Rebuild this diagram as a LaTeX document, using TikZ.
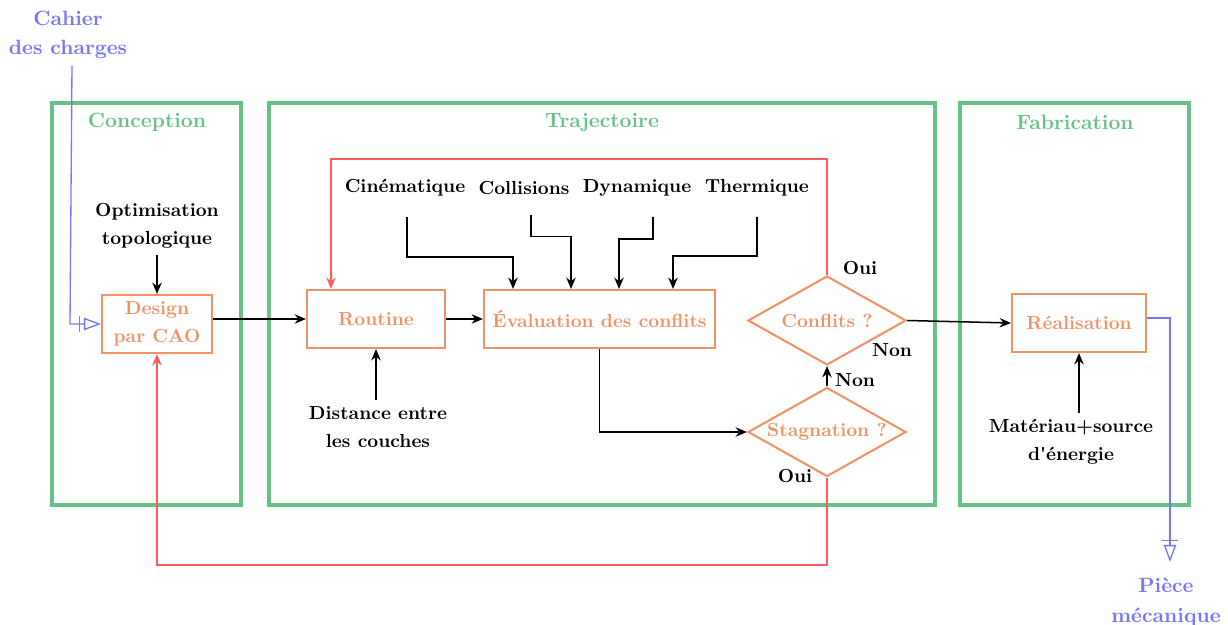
\documentclass[tikz,border=0pt]{standalone}
\usepackage{fontspec}
\setmainfont{Latin Modern Roman}[Ligatures=TeXOff]
\usepackage{xcolor}
\usepackage{tikz}
\usetikzlibrary{positioning,calc,shapes.geometric,arrows.meta}
\definecolor{stagegreen}{RGB}{104,194,136}
\definecolor{procorange}{RGB}{240,146,102}
\definecolor{loopred}{RGB}{250,92,92}
\definecolor{ioblue}{RGB}{118,118,250}
\tikzset{
  stage/.style    = {draw=stagegreen, line width=1.7pt},
  stagehdr/.style = {font=\fontsize{10.95}{13.6}\selectfont\bfseries, text=stagegreen},
  proc/.style     = {draw=procorange, line width=1.1pt, text=procorange, font=\bfseries, align=center, minimum height=30.7pt, inner sep=2pt},
  test/.style     = {diamond, draw=procorange, line width=1.1pt, text=procorange, font=\bfseries, aspect=1.8, inner sep=0pt, minimum width=83.6pt, minimum height=47.1pt},
  lbl/.style      = {font=\bfseries, align=center},
  iolbl/.style    = {font=\fontsize{10.95}{13.6}\selectfont\bfseries, text=ioblue, align=center},
  flow/.style     = {-{Stealth[length=6pt,width=5pt]}, line width=0.8pt},
  loop/.style     = {-{Stealth[length=6pt,width=5pt]}, draw=loopred, line width=1.1pt},
  io/.style       = {-{Bar[width=8pt,sep=2pt]Triangle[open,length=9pt,width=6.5pt]}, draw=ioblue, line width=0.7pt},
}

\begin{document}
\begin{tikzpicture}[x=0.529pt,y=-0.529pt]
  \useasboundingbox (0,0) rectangle (1228,625);

  % ----- stages -----
  \draw[stage] (52,103) rectangle (241,505);
  \draw[stage] (269,103) rectangle (935,505);
  \draw[stage] (960,103) rectangle (1189,505);
  \node[stagehdr] (hconc) at (147,122) {Conception};
  \node[stagehdr] (htraj) at (602,122) {Trajectoire};
  \node[stagehdr] (hfab) at (1075,122) {Fabrication};

  % ----- conception -----
  \node[iolbl] (cahier) at (68,35) {Cahier\\[2pt]des charges};
  \node[lbl] (opti) at (157,226) {Optimisation\\[3pt]topologique};
  \node[proc, minimum width=58.2pt] (cao) at (157,324) {Design\\[3pt]par CAO};

  % ----- trajectoire -----
  \node[proc, minimum width=73pt] (routine) at (376,319) {Routine};
  \node[proc, minimum width=122.2pt] (eval) at (599.5,319) {Évaluation des conflits};
  \node[lbl] (dist) at (378,427) {Distance entre\\[3pt]les couches};
  \node[lbl] (cine) at (405,188) {Cinématique};
  \node[lbl] (coll) at (524,188) {Collisions};
  \node[lbl] (dyn) at (637,188) {Dynamique};
  \node[lbl] (therm) at (757,188) {Thermique};
  \node[test] (conf) at (827,320.5) {Conflits ?};
  \node[test] (stag) at (827,432) {Stagnation ?};
  \node[lbl] (ouiconf) at (860,268) {Oui};
  \node[lbl] (nonconf) at (892,350) {Non};
  \node[lbl] (nonstag) at (855,380) {Non};
  \node[lbl] (ouistag) at (795,476) {Oui};

  % ----- fabrication -----
  \node[proc, minimum width=70.9pt] (real) at (1079,323) {Réalisation};
  \node[lbl] (mat) at (1071,442) {Matériau+source\\[3pt]d'énergie};
  \node[iolbl] (piece) at (1166,602) {Pièce\\[2pt]mécanique};

  % ----- flow -----
  \draw[flow] (opti.south) -- (cao.north);
  \draw[flow] (cao.east |- routine) -- (routine.west);
  \draw[flow] (routine) -- (eval);
  \draw[flow] (routine.south |- dist.north) -- (routine.south);
  \draw[flow] ([shift={(2,14)}]cine.south) -- ++(0,40) -| ([shift={(-86.5,0)}]eval.north);
  \draw[flow] ([shift={(7,14)}]coll.south) -- ++(0,21) -| ([shift={(-28.5,0)}]eval.north);
  \draw[flow] ([shift={(16,14)}]dyn.south) -- ++(0,22) -| ([shift={(19.5,0)}]eval.north);
  \draw[flow] ([shift={(0,14)}]therm.south) -- ++(0,39) -| ([shift={(73.5,0)}]eval.north);
  \draw[flow] (eval.south) |- (stag.west);
  \draw[flow] (stag.north) -- (conf.south);
  \draw[flow] (conf.east) -- (real.west);
  \draw[flow] (real.south |- mat.north) -- (real.south);

  % ----- loops -----
  \draw[loop] (conf.north) -- ++(0,-116) -| ([shift={(-45,0)}]routine.north);
  \draw[loop] (stag.south) -- ++(0,87) -| (cao.south);

  % ----- in / out -----
  \coordinate (cahierbend) at (70,324);
  \coordinate (piecetip) at (1170,562);
  \draw[io] ([shift={(4,0)}]cahier.south) -- (cahierbend) -- (cao.west);
  \draw[io] ([shift={(0,-5)}]real.east) -| (piecetip);
\end{tikzpicture}
\end{document}
